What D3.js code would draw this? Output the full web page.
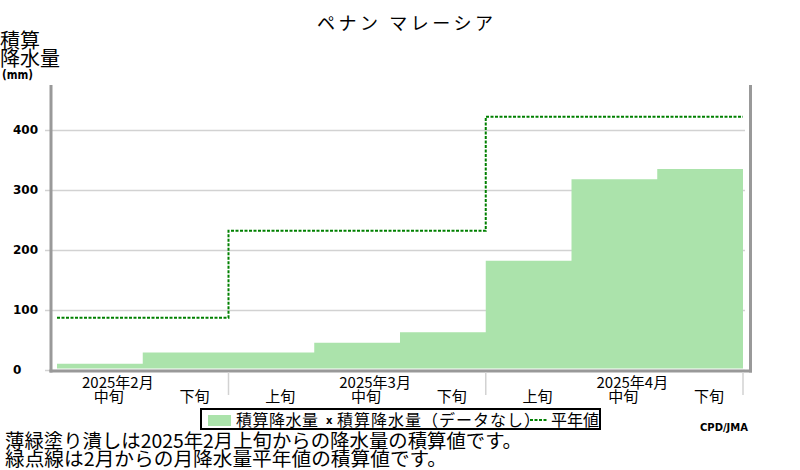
<!DOCTYPE html>
<html>
<head>
<meta charset="utf-8">
<script src="https://cdn.jsdelivr.net/npm/d3@7"></script>
<style>
  body { margin: 0; background: #fff; }
  svg { display: block; }
  text { font-family: "Noto Sans CJK JP", sans-serif; fill: #000; }
</style>
</head>
<body>
<svg id="chart" width="800" height="470"></svg>
<script>
const title = 'ペナン マレーシア'
const months = ['2025年2月', '2025年3月', '2025年4月']
const dekadLabels = ['中旬', '下旬', '上旬', '中旬', '下旬', '上旬', '中旬', '下旬']
const dekadMonth = [0, 0, 1, 1, 1, 2, 2, 2]
// accumulated precipitation per dekad (mm)
const accumPrecip = [10.5, 29, 29, 45.5, 63, 182, 318, 335]
// accumulated monthly normals (mm)
const normalAccum = [87, 232, 422]
const yTicks = [0, 100, 200, 300, 400]
const notes = [
  '薄緑塗り潰しは2025年2月上旬からの降水量の積算値です。',
  '緑点線は2月からの月降水量平年値の積算値です。'
]

const svg = d3.select('#chart')
const green = '#abe3ab'
const gray = '#999'

//setup scales
const x = d3.scaleBand()
  .domain(d3.range(dekadLabels.length))
  .range([57, 743])
  .padding(0)

const y = d3.scaleLinear()
  .domain([0, 475])
  .range([370, 85])

// y axis with gridlines
const yAxis = svg.append('g')
  .attr('transform', 'translate(50,0)')
  .call(d3.axisLeft(y).tickValues(yTicks).tickSize(-695).tickFormat(d3.format('d')))
yAxis.select('.domain').remove()
yAxis.selectAll('.tick line')
  .attr('x1', -5)
  .attr('stroke', '#d2d2d2')
  .attr('stroke-width', 1.5)
yAxis.selectAll('.tick text')
  .attr('x', -37)
  .attr('text-anchor', 'start')
  .style('font-family', 'DejaVu Sans')
  .style('font-weight', 'bold')
  .style('font-size', '12px')

// accumulated precipitation as a step area
const barPts = accumPrecip.map((v, i) => [x(i), v])
barPts.push([x(accumPrecip.length - 1) + x.bandwidth(), accumPrecip[accumPrecip.length - 1]])
const area = d3.area()
  .x(d => d[0])
  .y0(y(0) - 1.5)
  .y1(d => y(d[1]))
  .curve(d3.curveStepAfter)
svg.append('path')
  .datum(barPts)
  .attr('d', area)
  .attr('fill', green)

// normal line
const normPts = normalAccum.map((v, m) => [x(dekadMonth.indexOf(m)), v])
normPts.push([x(dekadLabels.length - 1) + x.bandwidth(), normalAccum[normalAccum.length - 1]])
const line = d3.line()
  .x(d => d[0])
  .y(d => y(d[1]))
  .curve(d3.curveStepAfter)
svg.append('path')
  .datum(normPts)
  .attr('d', line)
  .attr('fill', 'none')
  .attr('stroke', '#008000')
  .attr('stroke-width', 2)
  .attr('stroke-dasharray', '3,1.5')

// frame
svg.append('line').attr('x1', 51).attr('x2', 51).attr('y1', 85).attr('y2', 372.5)
  .attr('stroke', gray).attr('stroke-width', 3)
svg.append('line').attr('x1', 750.5).attr('x2', 750.5).attr('y1', 85).attr('y2', 372.5)
  .attr('stroke', gray).attr('stroke-width', 3)
svg.append('line').attr('x1', 49.5).attr('x2', 752).attr('y1', 371).attr('y2', 371)
  .attr('stroke', gray).attr('stroke-width', 3)

// x labels
svg.append('g').selectAll('text')
  .data(dekadLabels)
  .join('text')
  .attr('x', (d, i) => x(i) + x.bandwidth() / 2 + 9)
  .attr('y', 401.5)
  .attr('text-anchor', 'middle')
  .style('font-size', '15px')
  .text(d => d)

svg.append('g').selectAll('text')
  .data(months)
  .join('text')
  .attr('x', (d, m) => {
    const i = dekadMonth.findIndex((mm, k) => mm === m && dekadLabels[k] === '中旬')
    return x(i) + x.bandwidth() / 2 + 18
  })
  .attr('y', 388)
  .attr('text-anchor', 'middle')
  .style('font-size', '15px')
  .text(d => d)

// month separators
svg.append('g').selectAll('line')
  .data(months)
  .join('line')
  .attr('x1', (d, m) => x(dekadMonth.lastIndexOf(m)) + x.bandwidth())
  .attr('x2', (d, m) => x(dekadMonth.lastIndexOf(m)) + x.bandwidth())
  .attr('y1', 372)
  .attr('y2', 395)
  .attr('stroke', '#d2d2d2')
  .attr('stroke-width', 1.5)

// title
svg.append('text')
  .attr('x', 317).attr('y', 30)
  .attr('textLength', 176)
  .attr('lengthAdjust', 'spacing')
  .style('font-size', '18px')
  .text(title)

// y title
svg.append('text').attr('x', 0).attr('y', 48).style('font-size', '20px').text('積算')
svg.append('text').attr('x', 0).attr('y', 66).style('font-size', '20px').text('降水量')
svg.append('text').attr('x', 2).attr('y', 78.5)
  .attr('textLength', 31).attr('lengthAdjust', 'spacingAndGlyphs')
  .style('font-family', 'DejaVu Sans').style('font-weight', 'bold').style('font-size', '12px')
  .text('(mm)')

// legend
const lg = svg.append('g')
lg.append('rect').attr('x', 201).attr('y', 409).attr('width', 399).attr('height', 20)
  .attr('fill', '#fff').attr('stroke', '#000').attr('stroke-width', 2)
lg.append('rect').attr('x', 208).attr('y', 415).attr('width', 23).attr('height', 11)
  .attr('fill', green)
lg.append('text').attr('x', 236).attr('y', 425.5)
  .attr('textLength', 82).attr('lengthAdjust', 'spacing')
  .style('font-size', '16px').text('積算降水量')
lg.append('text').attr('x', 326).attr('y', 424)
  .style('font-family', 'DejaVu Sans').style('font-weight', 'bold').style('font-size', '10px')
  .text('x')
lg.append('text').attr('x', 337).attr('y', 425.5)
  .attr('textLength', 203).attr('lengthAdjust', 'spacing')
  .style('font-size', '16px').text('積算降水量（データなし）')
lg.append('line').attr('x1', 530).attr('x2', 547).attr('y1', 420).attr('y2', 420)
  .attr('stroke', '#008000').attr('stroke-width', 2).attr('stroke-dasharray', '3,1.5')
lg.append('text').attr('x', 551).attr('y', 425.5)
  .attr('textLength', 48).attr('lengthAdjust', 'spacing')
  .style('font-size', '16px').text('平年値')

svg.append('text').attr('x', 700).attr('y', 431)
  .style('font-family', 'DejaVu Sans').style('font-weight', 'bold').style('font-size', '10px')
  .text('CPD/JMA')

// notes
svg.append('g').selectAll('text')
  .data(notes)
  .join('text')
  .attr('x', 5)
  .attr('y', (d, i) => 448 + i * 18)
  .attr('textLength', (d, i) => i === 0 ? 517 : 442)
  .attr('lengthAdjust', 'spacingAndGlyphs')
  .style('font-size', '19px')
  .text(d => d)
</script>
</body>
</html>
